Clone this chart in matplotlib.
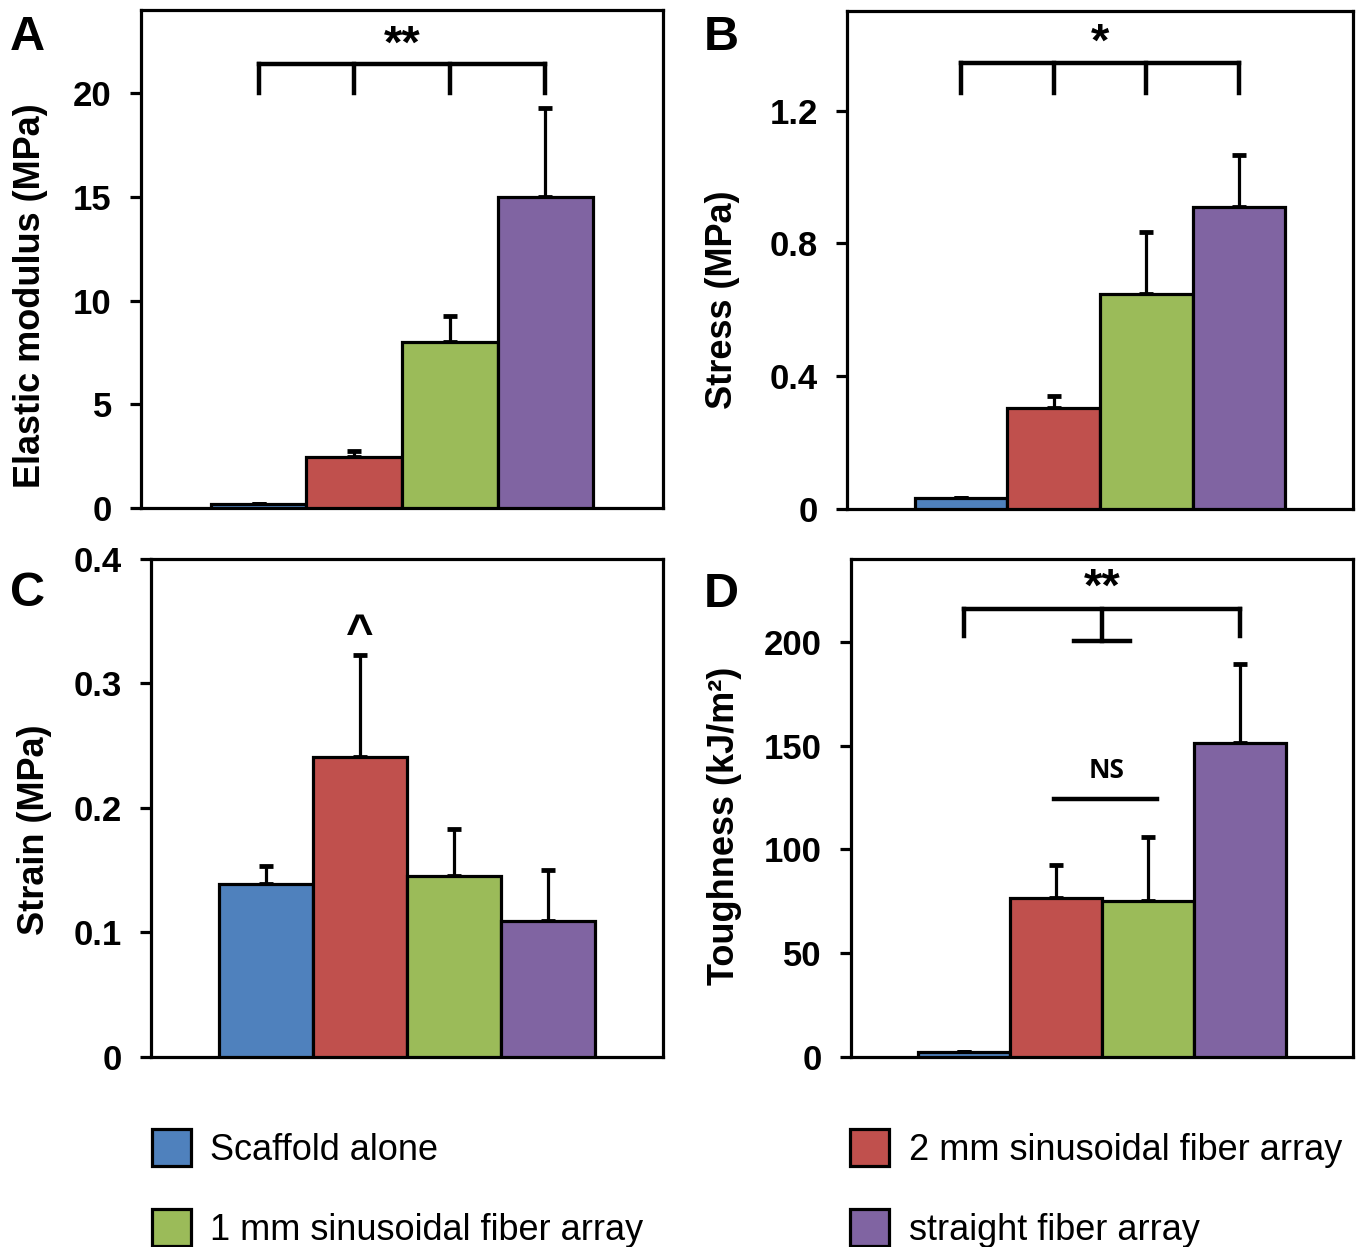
import matplotlib
matplotlib.use('Agg')
import matplotlib.pyplot as plt

plt.rcParams['font.family'] = ['Liberation Sans', 'DejaVu Sans']

# groups (same order in every panel)
groups = ['Scaffold alone', '2 mm sinusoidal fiber array',
          '1 mm sinusoidal fiber array', 'straight fiber array']
colors = ['#4F81BD', '#C0504D', '#9BBB59', '#8064A2']

# A - elastic modulus (MPa)
modulus = [0.2, 2.45, 8.0, 15.0]
modulus_err = [0.0, 0.3, 1.25, 4.3]
modulus_ticks = [0, 5, 10, 15, 20]
modulus_ticklabels = ['0', '5', '10', '15', '20']

# B - stress (MPa)
stress = [0.033, 0.303, 0.649, 0.911]
stress_err = [0.0, 0.038, 0.184, 0.156]
stress_ticks = [0, 0.4, 0.8, 1.2]
stress_ticklabels = ['0', '0.4', '0.8', '1.2']

# C - strain
strain = [0.139, 0.241, 0.145, 0.109]
strain_err = [0.014, 0.082, 0.038, 0.041]
strain_ticks = [0, 0.1, 0.2, 0.3, 0.4]
strain_ticklabels = ['0', '0.1', '0.2', '0.3', '0.4']

# D - toughness (kJ/m2)
tough = [2.5, 76.7, 75.0, 151.1]
tough_err = [0.0, 15.7, 31.2, 38.1]
tough_ticks = [0, 50, 100, 150, 200]
tough_ticklabels = ['0', '50', '100', '150', '200']

x = [0, 1, 2, 3]
LW = 2.3


def panel(rect, vals, errs, ymax, ticks, ticklabels, ylabel, label_xy):
    ax = fig.add_axes(rect)
    bars = ax.bar(x, vals, width=1.0, color=colors, edgecolor='black',
                  linewidth=LW, zorder=3)
    ax.errorbar(x, vals, yerr=[[0] * 4, errs], fmt='none', ecolor='black',
                elinewidth=LW, capsize=5, capthick=LW * 1.5, zorder=2)
    ax.set_xlim(-1.23, 4.23)
    ax.set_ylim(0, ymax)
    ax.set_xticks([])
    ax.set_yticks(ticks)
    ax.set_yticklabels(ticklabels, fontsize=25, fontweight='bold')
    ax.tick_params(axis='y', direction='out', length=8, width=LW, pad=13)
    for s in ax.spines.values():
        s.set_linewidth(LW)
    ax.set_ylabel(ylabel, fontsize=26, fontweight='bold')
    ax.yaxis.set_label_coords(*label_xy)
    return ax, bars


def comb(ax, xs, y_top, y_low, lw=3.2):
    ax.plot([xs[0], xs[-1]], [y_top, y_top], color='black', lw=lw,
            solid_capstyle='projecting', zorder=4)
    for xi in xs:
        ax.plot([xi, xi], [y_top, y_low], color='black', lw=lw, zorder=4)


fig = plt.figure(figsize=(13.63, 12.47), dpi=100)

axA, bars = panel([0.1034, 0.5926, 0.3830, 0.3994], modulus, modulus_err, 24,
                  modulus_ticks, modulus_ticklabels, 'Elastic modulus (MPa)',
                  (-0.178, 0.426))
comb(axA, x, 21.4, 20.0)
axA.text(1.5, 22.3, '**', ha='center', va='center', fontsize=34, fontweight='bold')

axB, _ = panel([0.6214, 0.5918, 0.3712, 0.3994], stress, stress_err, 1.5,
               stress_ticks, stress_ticklabels, 'Stress (MPa)', (-0.211, 0.42))
comb(axB, x, 1.342, 1.254)
axB.text(1.5, 1.40, '*', ha='center', va='center', fontsize=34, fontweight='bold')

axC, _ = panel([0.1108, 0.1524, 0.3756, 0.3994], strain, strain_err, 0.4,
               strain_ticks, strain_ticklabels, 'Strain (MPa)', (-0.193, 0.456))
axC.text(1, 0.339, '^', ha='center', va='center', fontsize=34, fontweight='bold')

axD, _ = panel([0.6244, 0.1524, 0.3683, 0.3994], tough, tough_err, 240,
               tough_ticks, tough_ticklabels, 'Toughness (kJ/m²)', (-0.217, 0.464))
comb(axD, [0, 3], 216.1, 203)
axD.plot([1.5, 1.5], [216.1, 200.4], color='black', lw=3.2, zorder=4)
axD.plot([1.2, 1.8], [200.4, 200.4], color='black', lw=3.2, zorder=4)
axD.plot([0.98, 2.1], [124.5, 124.5], color='black', lw=3.2, zorder=4)
axD.text(1.55, 138, 'NS', ha='center', va='center', fontsize=19,
         fontweight='bold', family=['Open Sans', 'DejaVu Sans'])
axD.text(1.5, 225.5, '**', ha='center', va='center', fontsize=34, fontweight='bold')

# panel letters
for letter, px, py in [('A', 10, 38), ('B', 704, 38), ('C', 10, 593), ('D', 704, 595)]:
    fig.text(px / 1363, 1 - py / 1247, letter, fontsize=35, fontweight='bold',
             ha='left', va='center')

# legend: Scaffold / 1 mm in left column, 2 mm / straight in right column
order = [0, 2, 1, 3]
fig.legend([bars[i] for i in order], [groups[i] for i in order], ncol=2,
           loc='upper left', bbox_to_anchor=(152 / 1363, 1 - 1129 / 1247),
           frameon=False, fontsize=26, borderpad=0, borderaxespad=0,
           handlelength=1.07, handleheight=1.2, handletextpad=0.55,
           columnspacing=5.72, labelspacing=1.15)

fig.savefig('out.png', dpi=100)
